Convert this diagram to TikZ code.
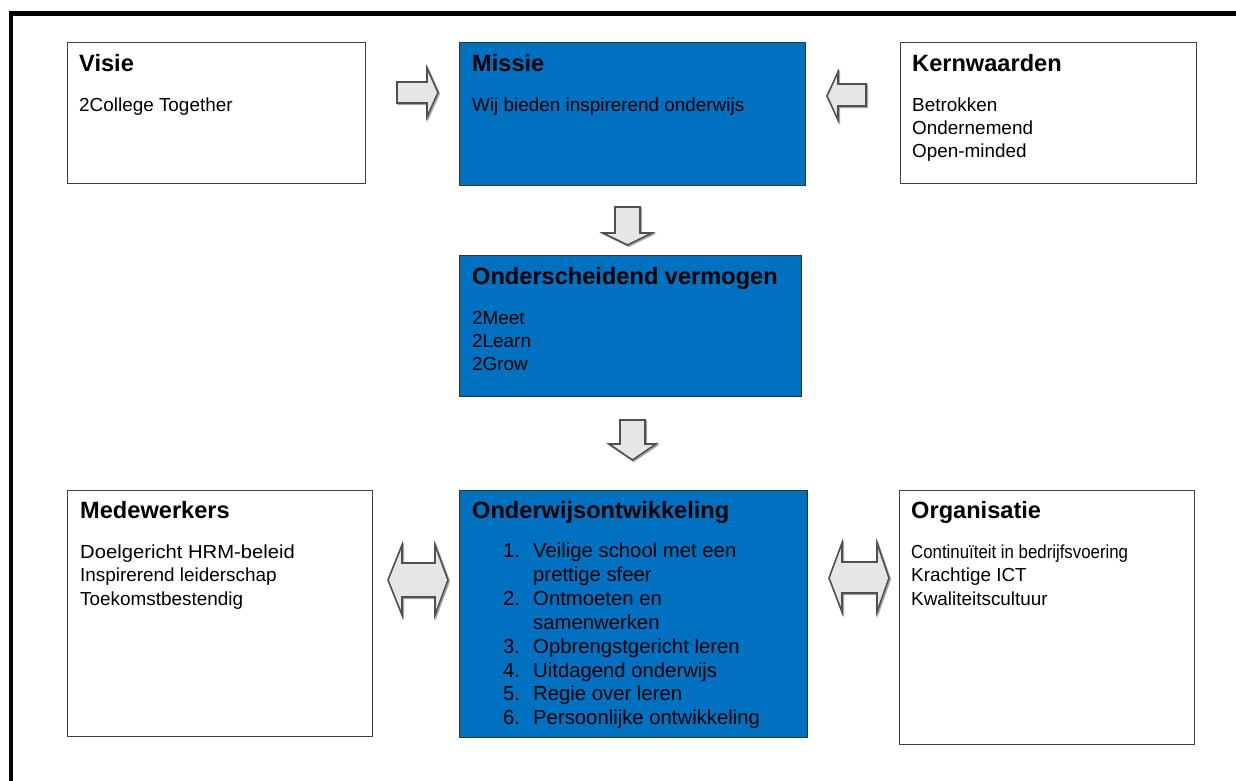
\documentclass[tikz,border=0pt]{standalone}
\usepackage{fontspec}
\setmainfont{Liberation Sans}
\definecolor{wordblue}{RGB}{0,112,192}
\definecolor{arrowfill}{RGB}{230,230,230}
\definecolor{arrowline}{RGB}{80,80,80}
\newcommand\tfont{\fontsize{23.6}{28}\selectfont\bfseries}
\newcommand\bfont{\fontsize{18.9}{22}\selectfont}
\newcommand\lfont{\fontsize{20.3}{24}\selectfont}
\tikzset{
  boxw/.style={draw=black!75, line width=1.4pt, fill=white, anchor=north west, inner sep=0pt},
  boxb/.style={draw=black!80, line width=1.4pt, fill=wordblue, anchor=north west, inner sep=0pt},
  ttl/.style={anchor=base west, inner sep=0pt, font=\tfont},
  txt/.style={anchor=base west, inner sep=0pt, font=\bfont},
  lst/.style={anchor=base west, inner sep=0pt, font=\lfont},
  blockarrow/.style={fill=arrowfill, draw=arrowline, line width=1.6pt, line join=miter},
  arrowshadow/.style={draw=black!35, line width=1.6pt, line join=miter, shift={(1.2,1.2)}}
}
\begin{document}
\begin{tikzpicture}[x=1pt, y=-1pt]
\useasboundingbox (0,0) rectangle (1236,780);
% outer frame
\draw[line width=4.6pt, line cap=butt] (11,782) -- (11,13.5) -- (1240,13.5);

% boxes
\node[boxw, minimum width=298pt, minimum height=141pt] (visie) at (67,42) {};
\node[boxb, minimum width=346pt, minimum height=143pt] (missie) at (459,42) {};
\node[boxw, minimum width=296pt, minimum height=141pt] (kern) at (900,42) {};
\node[boxb, minimum width=342pt, minimum height=141pt] (onders) at (459,255) {};
\node[boxw, minimum width=305pt, minimum height=246pt] (mede) at (67,490) {};
\node[boxb, minimum width=348pt, minimum height=247pt] (onderw) at (459,490) {};
\node[boxw, minimum width=295pt, minimum height=254pt] (org) at (899,490) {};

% texts
\node[ttl] (visieT) at (79,71) {Visie};
\node[txt] (visie1) at (79,111) {2College Together};

\node[ttl] (missieT) at (472,71) {Missie};
\node[txt] (missie1) at (472,111) {Wij bieden inspirerend onderwijs};

\node[ttl] (kernT) at (912,71.5) {Kernwaarden};
\node[txt] (kern1) at (912,111) {Betrokken};
\node[txt] (kern2) at (912,134.3) {Ondernemend};
\node[txt] (kern3) at (912,157.6) {Open-minded};

\node[ttl] (ondersT) at (472,284) {Onderscheidend vermogen};
\node[txt] (onders1) at (472,324) {2Meet};
\node[txt] (onders2) at (472,347.3) {2Learn};
\node[txt] (onders3) at (472,370.6) {2Grow};

\node[ttl] (medeT) at (80,518) {Medewerkers};
\node[txt, xscale=1.07] (mede1) at (80,558) {Doelgericht HRM-beleid};
\node[txt] (mede2) at (80,581.5) {Inspirerend leiderschap};
\node[txt] (mede3) at (80,605) {Toekomstbestendig};

\node[ttl] (orgT) at (911,518) {Organisatie};
\node[txt, xscale=0.89] (org1) at (911,558) {Continuïteit in bedrijfsvoering};
\node[txt] (org2) at (911,581.5) {Krachtige ICT};
\node[txt] (org3) at (911,605) {Kwaliteitscultuur};

\node[ttl] (onderwT) at (472,518) {Onderwijsontwikkeling};
\node[lst] (n1) at (503,557) {1.};
\node[lst] (l1a) at (533,557) {Veilige school met een};
\node[lst] (l1b) at (533,581) {prettige sfeer};
\node[lst] (n2) at (503,605) {2.};
\node[lst] (l2a) at (533,605) {Ontmoeten en};
\node[lst] (l2b) at (533,629) {samenwerken};
\node[lst] (n3) at (503,653) {3.};
\node[lst] (l3) at (533,653) {Opbrengstgericht leren};
\node[lst] (n4) at (503,677) {4.};
\node[lst] (l4) at (533,677) {Uitdagend onderwijs};
\node[lst] (n5) at (503,700.5) {5.};
\node[lst] (l5) at (533,700.5) {Regie over leren};
\node[lst] (n6) at (503,724) {6.};
\node[lst] (l6) at (533,724) {Persoonlijke ontwikkeling};

% block arrows
% Visie -> Missie
\draw[arrowshadow] (397,82) -- (427,82) -- (427,68) -- (438,92.5) -- (427,117) -- (427,103) -- (397,103) -- cycle;
\draw[blockarrow] (397,82) -- (427,82) -- (427,68) -- (438,92.5) -- (427,117) -- (427,103) -- (397,103) -- cycle;
% Kernwaarden -> Missie
\draw[arrowshadow] (866,84) -- (838,84) -- (838,72) -- (827,96) -- (838,120) -- (838,106) -- (866,106) -- cycle;
\draw[blockarrow] (866,84) -- (838,84) -- (838,72) -- (827,96) -- (838,120) -- (838,106) -- (866,106) -- cycle;
% Missie -> Onderscheidend
\draw[arrowshadow] (615,207) -- (640,207) -- (640,233) -- (652,233) -- (627.5,245) -- (603,233) -- (615,233) -- cycle;
\draw[blockarrow] (615,207) -- (640,207) -- (640,233) -- (652,233) -- (627.5,245) -- (603,233) -- (615,233) -- cycle;
% Onderscheidend -> Onderwijs
\draw[arrowshadow] (620,420) -- (645,420) -- (645,444) -- (656,444) -- (632.5,460) -- (609,444) -- (620,444) -- cycle;
\draw[blockarrow] (620,420) -- (645,420) -- (645,444) -- (656,444) -- (632.5,460) -- (609,444) -- (620,444) -- cycle;
% Medewerkers <-> Onderwijs
\draw[arrowshadow] (388,580) -- (402,545) -- (402,563) -- (435,563) -- (435,545) -- (448,580) -- (435,615) -- (435,597) -- (402,597) -- (402,615) -- cycle;
\draw[blockarrow] (388,580) -- (402,545) -- (402,563) -- (435,563) -- (435,545) -- (448,580) -- (435,615) -- (435,597) -- (402,597) -- (402,615) -- cycle;
% Onderwijs <-> Organisatie
\draw[arrowshadow] (829,578) -- (842,543) -- (842,562) -- (877,562) -- (877,543) -- (889,578) -- (877,612) -- (877,593) -- (842,593) -- (842,612) -- cycle;
\draw[blockarrow] (829,578) -- (842,543) -- (842,562) -- (877,562) -- (877,543) -- (889,578) -- (877,612) -- (877,593) -- (842,593) -- (842,612) -- cycle;
\end{tikzpicture}
\end{document}
